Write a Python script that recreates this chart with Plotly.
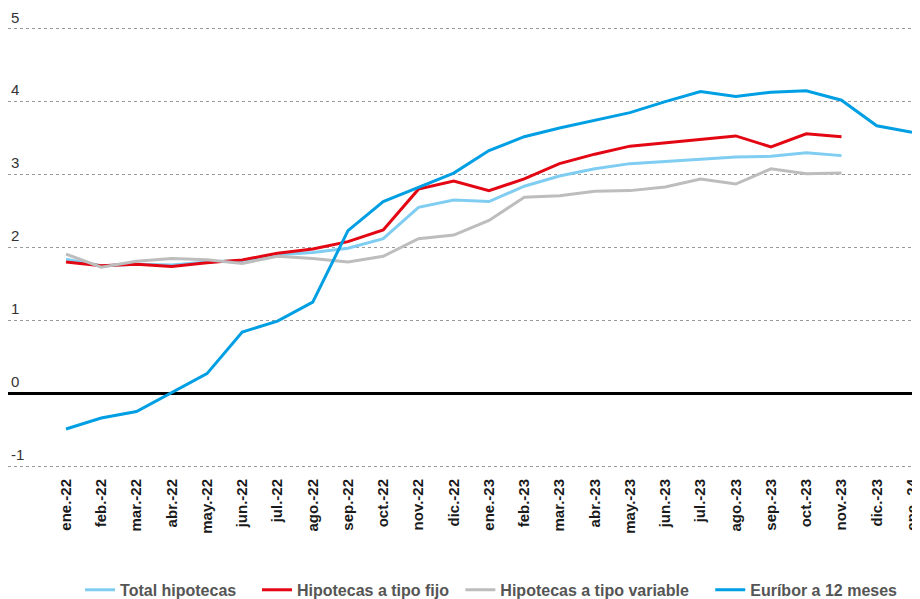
import plotly.graph_objects as go

# Months (x axis)
meses = ["ene.-22", "feb.-22", "mar.-22", "abr.-22", "may.-22", "jun.-22", "jul.-22", "ago.-22",
         "sep.-22", "oct.-22", "nov.-22", "dic.-22", "ene.-23", "feb.-23", "mar.-23", "abr.-23",
         "may.-23", "jun.-23", "jul.-23", "ago.-23", "sep.-23", "oct.-23", "nov.-23", "dic.-23", "ene.-24"]

# Series values
total_hipotecas = [1.84, 1.75, 1.77, 1.76, 1.80, 1.82, 1.90, 1.93, 1.99, 2.12, 2.55, 2.65,
                   2.63, 2.84, 2.98, 3.08, 3.15, 3.18, 3.22, 3.24, 3.25, 3.30, 3.26]
tipo_fijo = [1.80, 1.75, 1.77, 1.74, 1.79, 1.83, 1.92, 1.98, 2.08, 2.24, 2.80, 2.91,
             2.78, 2.94, 3.15, 3.28, 3.39, 3.44, 3.48, 3.53, 3.38, 3.56, 3.52]
tipo_variable = [1.91, 1.73, 1.81, 1.85, 1.83, 1.78, 1.88, 1.85, 1.80, 1.88, 2.12, 2.17,
                 2.37, 2.69, 2.71, 2.77, 2.78, 2.83, 2.94, 2.87, 3.08, 3.01, 3.02]
euribor = [-0.49, -0.34, -0.25, 0.01, 0.27, 0.84, 0.99, 1.25, 2.23, 2.63, 2.83, 3.02,
           3.33, 3.52, 3.64, 3.75, 3.85, 4.00, 4.14, 4.07, 4.13, 4.15, 4.02, 3.67, 3.58]

y_ticks = [-1, 0, 1, 2, 3, 4, 5]
y_labels = ["-1", "0", "1", "2", "3", "4", "5"]

series = [
    ("Total hipotecas", total_hipotecas, "#80cdf2"),
    ("Hipotecas a tipo fijo", tipo_fijo, "#e30613"),
    ("Hipotecas a tipo variable", tipo_variable, "#bdbdbd"),
    ("Euríbor a 12 meses", euribor, "#009fe3"),
]

# one legend per series so each entry sits where the original puts it
legend_ids = ["legend", "legend2", "legend3", "legend4"]
legend_x = [0.079, 0.273, 0.496, 0.77]

fig = go.Figure()
for (name, vals, color), lid in zip(series, legend_ids):
    fig.add_trace(go.Scatter(x=meses[:len(vals)], y=vals, mode="lines", name=name,
                             line=dict(color=color, width=3), legend=lid))

legend_font = dict(size=16, color="#555555", family="Liberation Sans, Arial, sans-serif", weight="bold")
legends = {}
for lid, lx in zip(legend_ids, legend_x):
    legends[lid] = dict(orientation="h", x=lx, xanchor="left", y=-0.246, yanchor="middle",
                        font=legend_font, bgcolor="rgba(0,0,0,0)")

# the page body adds 8px round the figure
fig.update_layout(
    width=912, height=591,
    margin=dict(l=0, r=0, t=0, b=124, autoexpand=False),
    paper_bgcolor="white",
    plot_bgcolor="white",
    font=dict(family="Liberation Sans, Arial, sans-serif", color="#333333"),
    showlegend=True,
    **legends
)
fig.update_xaxes(
    type="category",
    range=[-1.645, 24.227],
    tickangle=-90,
    tickfont=dict(size=15, color="#1a1a1a", weight="bold"),
    showgrid=False, showline=False, ticks="",
    ticklabeloverflow="allow",
    automargin=False,
)
fig.update_yaxes(
    range=[-1.121, 5.285],
    tickvals=y_ticks,
    ticktext=y_labels,
    ticklabelposition="inside top",
    ticklabelshift=-1,
    ticklabelstandoff=0,
    ticklabeloverflow="allow",
    tickfont=dict(size=15, color="#333333"),
    showgrid=True, gridcolor="#9a9a9a", gridwidth=1, griddash="dot",
    zeroline=True, zerolinecolor="black", zerolinewidth=3,
    showline=False, ticks="",
    automargin=False,
)

fig.write_html("out.html")
